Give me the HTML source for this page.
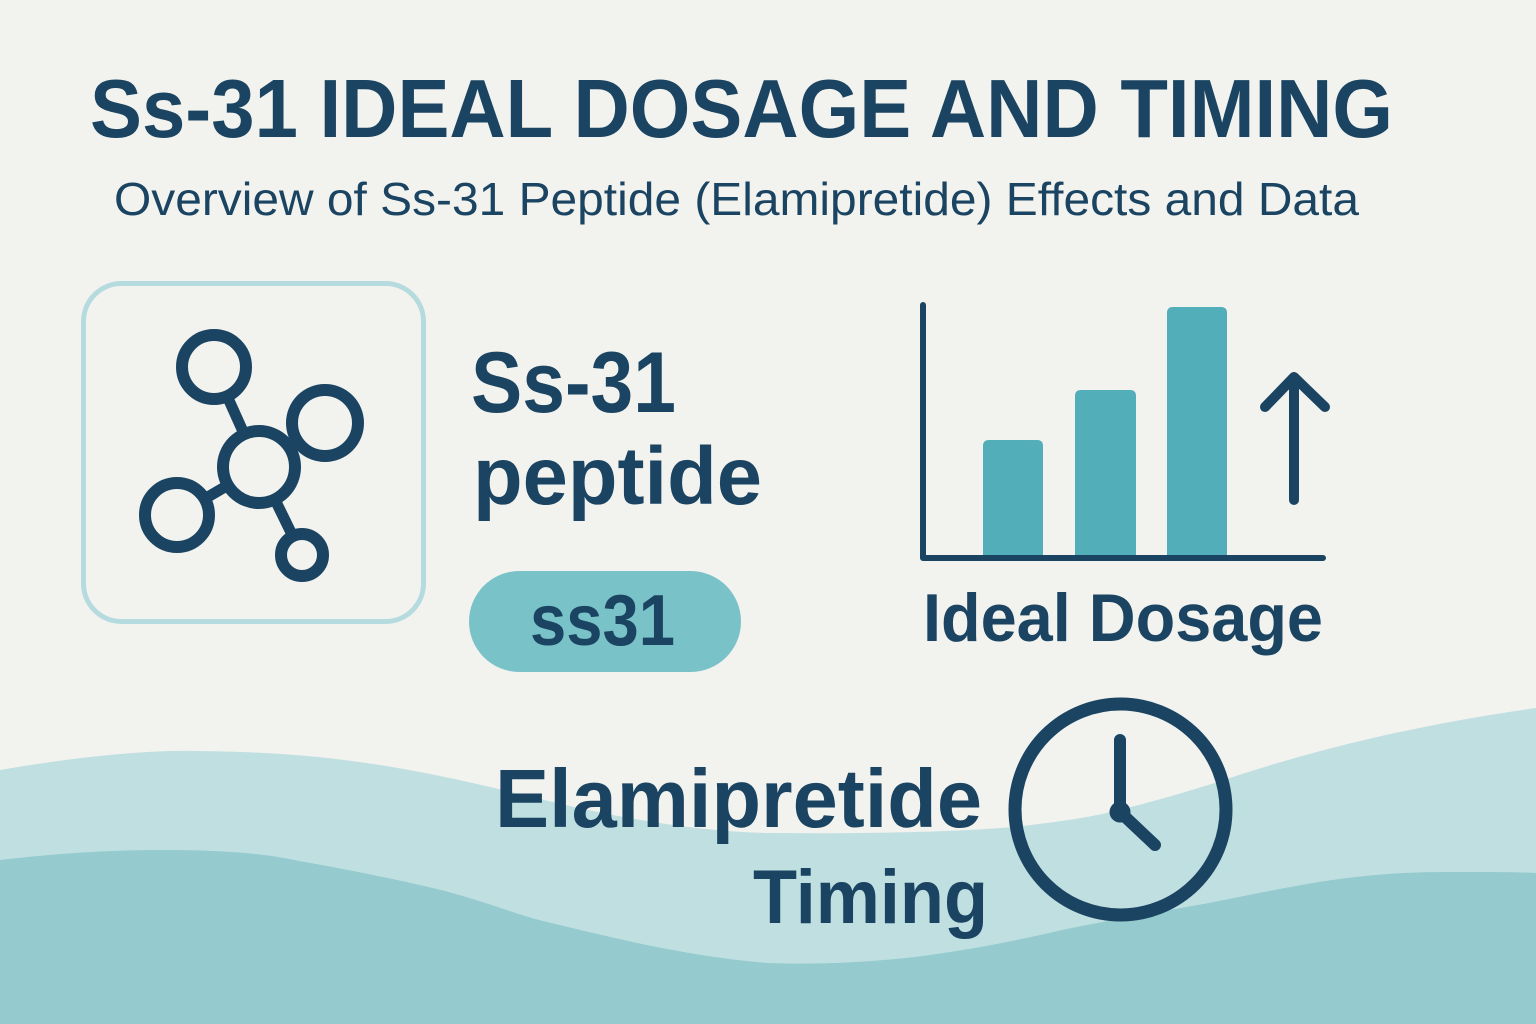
<!DOCTYPE html>
<html>
<head>
<meta charset="utf-8">
<style>
  html,body{margin:0;padding:0;background:#f2f2ee;}
  svg{display:block;}
  text{font-family:"Liberation Sans", Arial, sans-serif;fill:#1a4461;}
</style>
</head>
<body>
<svg width="1536" height="1024" viewBox="0 0 1536 1024" xmlns="http://www.w3.org/2000/svg">
  <rect x="0" y="0" width="1536" height="1024" fill="#f2f2ee"/>

  <!-- waves -->
  <path d="M0,770 C70,758 140,750 196,751 C280,752 330,757 392,767 C470,780 540,800 588,810 C660,825 720,832 768,833 C860,834 960,832 1013,827 C1060,822 1090,817 1111,812 C1160,800 1200,788 1233,777 C1300,755 1400,727 1536,708 L1536,1024 L0,1024 Z" fill="#bfdfe1"/>
  <path d="M0,860 C60,853 110,850 162,850 C220,850 260,853 294,860 C350,870 400,880 441,890 C480,900 510,912 539,920 C580,930 610,937 637,943 C690,954 730,960 768,963 C820,965 870,962 915,957 C970,950 1020,940 1062,930 C1110,920 1160,912 1209,903 C1260,893 1310,882 1356,877 C1390,873 1420,872 1454,872 C1490,872 1515,872 1536,873 L1536,1024 L0,1024 Z" fill="#95cace"/>

  <!-- title -->
  <text x="90" y="137" font-size="83" font-weight="bold" textLength="1303" lengthAdjust="spacingAndGlyphs">Ss-31 IDEAL DOSAGE AND TIMING</text>
  <text x="114" y="215" font-size="46" textLength="1245" lengthAdjust="spacingAndGlyphs">Overview of Ss-31 Peptide (Elamipretide) Effects and Data</text>

  <!-- molecule box -->
  <rect x="83.5" y="283.5" width="340" height="338" rx="38" ry="38" fill="none" stroke="#b5dbdf" stroke-width="5"/>
  <g stroke="#1a4461" stroke-width="11" stroke-linecap="round" fill="none">
    <line x1="214" y1="367" x2="259" y2="467"/>
    <line x1="259" y1="467" x2="177" y2="515"/>
    <line x1="259" y1="467" x2="302" y2="555"/>
  </g>
  <g stroke="#1a4461" stroke-width="12" fill="#f2f2ee">
    <circle cx="214" cy="367" r="32"/>
    <circle cx="325" cy="423" r="33"/>
    <circle cx="259" cy="467" r="36"/>
    <circle cx="177" cy="515" r="32"/>
    <circle cx="302" cy="555" r="21"/>
  </g>

  <!-- middle texts -->
  <text x="471" y="412" font-size="86" font-weight="bold" textLength="205" lengthAdjust="spacingAndGlyphs">Ss-31</text>
  <text x="473" y="504" font-size="82" font-weight="bold" textLength="289" lengthAdjust="spacingAndGlyphs">peptide</text>
  <rect x="469" y="571" width="272" height="101" rx="50.5" ry="50.5" fill="#79c2c8"/>
  <text x="530" y="645" font-size="72" font-weight="bold" textLength="145" lengthAdjust="spacingAndGlyphs">ss31</text>

  <!-- bar chart -->
  <g fill="#52aeb9">
    <path d="M983,558 L983,446 Q983,440 989,440 L1037,440 Q1043,440 1043,446 L1043,558 Z"/>
    <path d="M1075,558 L1075,396 Q1075,390 1081,390 L1130,390 Q1136,390 1136,396 L1136,558 Z"/>
    <path d="M1167,558 L1167,313 Q1167,307 1173,307 L1221,307 Q1227,307 1227,313 L1227,558 Z"/>
  </g>
  <path d="M923,305 L923,558 L1323,558" fill="none" stroke="#1a4461" stroke-width="6" stroke-linecap="round" stroke-linejoin="round"/>
  <g fill="none" stroke="#1a4461" stroke-width="10" stroke-linecap="round" stroke-linejoin="round">
    <path d="M1294,500 L1294,378"/>
    <path d="M1265,407 L1294,377 L1325,407"/>
  </g>
  <text x="923" y="641" font-size="68" font-weight="bold" textLength="400" lengthAdjust="spacingAndGlyphs">Ideal Dosage</text>

  <!-- bottom texts -->
  <text x="495" y="827" font-size="83" font-weight="bold" textLength="487" lengthAdjust="spacingAndGlyphs">Elamipretide</text>
  <text x="753" y="923" font-size="76" font-weight="bold" textLength="235" lengthAdjust="spacingAndGlyphs">Timing</text>

  <!-- clock -->
  <circle cx="1120.5" cy="809.5" r="105.5" fill="none" stroke="#1a4461" stroke-width="13"/>
  <path d="M1120,740 L1120,812 L1155,845" fill="none" stroke="#1a4461" stroke-width="12" stroke-linecap="round" stroke-linejoin="round"/>
  <circle cx="1120" cy="812" r="10.5" fill="#1a4461"/>
</svg>
</body>
</html>
